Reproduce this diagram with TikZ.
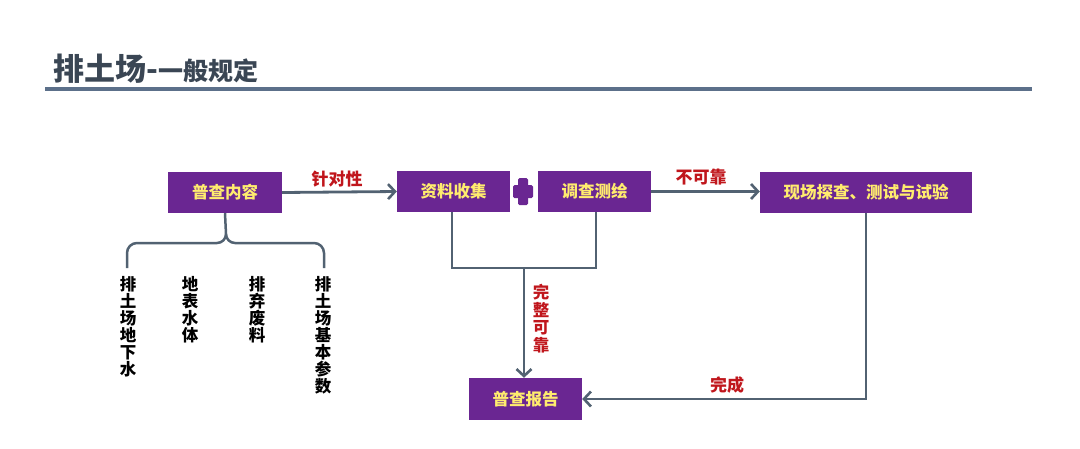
\documentclass[tikz,border=0pt]{standalone}
\usepackage{fontspec}
\newfontfamily\cjk{Noto Sans CJK SC}
\usetikzlibrary{arrows.meta}
\definecolor{boxpurple}{RGB}{106,38,146}
\definecolor{boxyellow}{RGB}{255,236,110}
\definecolor{linegray}{RGB}{82,98,114}
\definecolor{titlegray}{RGB}{58,70,84}
\definecolor{rulecol}{RGB}{92,112,138}
\definecolor{labred}{RGB}{192,22,28}
\tikzset{
  box/.style={draw=none, fill=boxpurple, text=boxyellow, font=\cjk\bfseries\fontsize{16.5}{18}\selectfont, inner sep=0pt, minimum height=41pt},
  conn/.style={draw=linegray, line width=2.8pt},
  arr/.style={conn, -{Straight Barb[length=7pt,width=15pt,line width=2.6pt]}},
  lab/.style={text=labred, font=\cjk\bfseries\fontsize{17}{17}\selectfont, inner sep=0pt},
  vtext/.style={text=black, font=\cjk\bfseries\fontsize{16.5}{17}\selectfont, align=center, inner sep=0pt, anchor=north},
}
\begin{document}
\begin{tikzpicture}[x=1pt,y=-1pt]
\useasboundingbox (0,0) rectangle (1080,448);
% title
\node[anchor=base west, inner sep=0pt, text=titlegray, font=\cjk\bfseries] (title) at (53,80)
  {\fontsize{31}{31}\selectfont 排土场-\fontsize{25}{25}\selectfont 一般规定};
\draw[rulecol, line width=4pt] (45,89) coordinate (r1) -- (1032,89) coordinate (r2);
% boxes
\node[box, minimum width=114pt] (pc) at (225,192.5) {普查内容};
\node[box, minimum width=113pt] (zl) at (453.5,191.5) {资料收集};
\node[box, minimum width=113pt] (dc) at (594.5,191.5) {调查测绘};
\node[box, minimum width=212pt] (xc) at (866,192.5) {现场探查、测试与试验};
\node[box, minimum width=113pt, minimum height=42pt] (bg) at (525.5,399) {普查报告};
% plus sign
\node[fill=boxpurple, minimum width=10pt, minimum height=27pt, inner sep=0pt, rounded corners=1.5pt] (plusv) at (523,191.5) {};
\node[fill=boxpurple, minimum width=20pt, minimum height=13pt, inner sep=0pt, rounded corners=1.5pt] (plush) at (523,191.5) {};
% connectors
\draw[arr] (pc.east) -- (zl.west);
\node[lab] (l1) at (337,179) {针对性};
\draw[arr] (dc.east) -- (dc.east -| xc.west);
\node[lab] (l2) at (701,177) {不可靠};
\coordinate (jl) at (452,268);
\coordinate (jr) at (596,268);
\coordinate (jm) at (524,268);
\draw[conn, line join=miter] (zl.south -| jl) -- (jl) -- (jr) -- (dc.south -| jr);
\draw[arr] (jm) -- (bg.north -| jm);
\node[vtext, font=\cjk\bfseries\fontsize{16.5}{17.5}\selectfont] (l3) at (541,284) {\textcolor{labred}{完}\\\textcolor{labred}{整}\\\textcolor{labred}{可}\\\textcolor{labred}{靠}};
\draw[arr, line join=miter] (xc.south) |- (bg.east);
\node[lab] (l4) at (727,385) {完成};
% brace
\draw[conn, line width=2.5pt] (pc.south) -- (226,234) to[out=-90,in=0] (217,243) -- (137,243) to[out=180,in=90] (127,253) -- (127,268);
\draw[conn, line width=2.5pt] (226,234) to[out=-90,in=180] (235,243) -- (314,243) to[out=0,in=90] (324,253) -- (324,268);
% vertical texts
\node[vtext] (t1) at (128,276) {排\\土\\场\\地\\下\\水};
\node[vtext] (t2) at (190,276) {地\\表\\水\\体};
\node[vtext] (t3) at (257,276) {排\\弃\\废\\料};
\node[vtext] (t4) at (323,276) {排\\土\\场\\基\\本\\参\\数};
\end{tikzpicture}
\end{document}
